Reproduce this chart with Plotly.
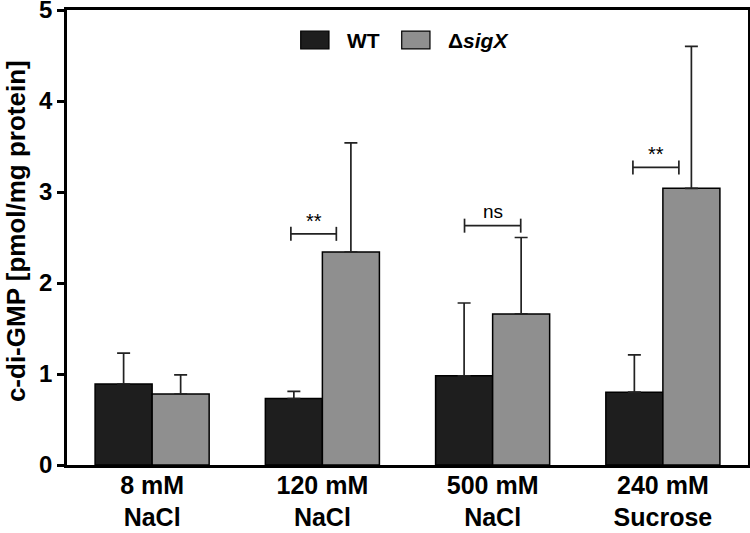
import plotly.graph_objects as go

categories = ["8 mM<br>NaCl", "120 mM<br>NaCl", "500 mM<br>NaCl", "240 mM<br>Sucrose"]
wt_mean = [0.89, 0.73, 0.98, 0.80]
wt_err_top = [1.23, 0.81, 1.78, 1.21]
sig_mean = [0.78, 2.34, 1.66, 3.04]
sig_err_top = [0.99, 3.54, 2.50, 4.60]

# significance brackets
brackets_x0 = [0.815, 1.835, 2.824]
brackets_x1 = [1.082, 2.165, 3.094]
brackets_y = [2.54, 2.63, 3.27]
brackets_label = ["**", "ns", "**"]

xs = list(range(len(categories)))
FONT = "Liberation Sans"

fig = go.Figure()
fig.add_trace(go.Bar(
    x=xs, y=wt_mean, name="WT",
    marker=dict(color="#1e1e1e", line=dict(color="black", width=1.5)),
    error_y=dict(type="data", symmetric=False,
                 array=[t - m for t, m in zip(wt_err_top, wt_mean)],
                 arrayminus=[0] * len(wt_mean),
                 color="#222222", thickness=1.7, width=6.5),
    showlegend=False,
))
fig.add_trace(go.Bar(
    x=xs, y=sig_mean, name="ΔsigX",
    marker=dict(color="#8f8f8f", line=dict(color="black", width=1.5)),
    error_y=dict(type="data", symmetric=False,
                 array=[t - m for t, m in zip(sig_err_top, sig_mean)],
                 arrayminus=[0] * len(sig_mean),
                 color="#222222", thickness=1.7, width=6.5),
    showlegend=False,
))

shapes = []
annotations = []
cap = 0.077
for x0, x1, y, lab in zip(brackets_x0, brackets_x1, brackets_y, brackets_label):
    line = dict(color="#222222", width=1.7)
    shapes.append(dict(type="line", xref="x", yref="y", x0=x0, x1=x1, y0=y, y1=y, line=line))
    shapes.append(dict(type="line", xref="x", yref="y", x0=x0, x1=x0, y0=y - cap, y1=y + cap, line=line))
    shapes.append(dict(type="line", xref="x", yref="y", x0=x1, x1=x1, y0=y - cap, y1=y + cap, line=line))
    annotations.append(dict(
        x=(x0 + x1) / 2, y=y, xref="x", yref="y", text=lab, showarrow=False,
        yanchor="bottom", yshift=(0 if lab == "**" else 2),
        font=dict(family=FONT, size=20 if lab == "**" else 19, color="black")))

# manual legend
shapes.append(dict(type="rect", xref="paper", yref="paper", x0=0.3432, x1=0.3847, y0=0.9146, y1=0.9534,
                   fillcolor="#1e1e1e", line=dict(color="black", width=1.2)))
shapes.append(dict(type="rect", xref="paper", yref="paper", x0=0.4915, x1=0.5330, y0=0.9146, y1=0.9534,
                   fillcolor="#8f8f8f", line=dict(color="black", width=1.2)))
annotations.append(dict(x=0.4082, y=0.934, xref="paper", yref="paper", xanchor="left", yanchor="middle",
                        text="<b>WT</b>", showarrow=False, font=dict(family=FONT, size=21, color="black")))
annotations.append(dict(x=0.5561, y=0.934, xref="paper", yref="paper", xanchor="left", yanchor="middle",
                        text="<b>Δ<i>sigX</i></b>", showarrow=False, font=dict(family=FONT, size=21, color="black")))

# y axis title
annotations.append(dict(x=-0.0749, y=0.514, xref="paper", yref="paper", xanchor="center", yanchor="middle",
                        text="<b>c-di-GMP [pmol/mg protein]</b>", textangle=-90, showarrow=False,
                        font=dict(family=FONT, size=26, color="black")))

fig.update_layout(
    width=750, height=533,
    margin=dict(l=67, r=2, t=10, b=68),
    paper_bgcolor="white", plot_bgcolor="white",
    barmode="group", bargap=0.33, bargroupgap=0,
    shapes=shapes, annotations=annotations,
    font=dict(family=FONT, color="black"),
)
fig.update_xaxes(
    range=[-0.5, 3.5], tickvals=xs, ticktext=categories,
    showline=True, linecolor="black", linewidth=2.5, mirror=True,
    ticks="", showgrid=False, zeroline=False, automargin=False,
    ticklabelstandoff=-4,
    tickfont=dict(family=FONT, size=25, color="black", weight="bold"),
)
fig.update_yaxes(
    range=[0, 5], tickvals=[0, 1, 2, 3, 4, 5],
    showline=True, linecolor="black", linewidth=2.5, mirror=True,
    ticks="outside", ticklen=7, tickwidth=2.5, tickcolor="black",
    showgrid=False, zeroline=False, ticklabeloverflow="allow", automargin=False,
    tickfont=dict(family=FONT, size=24, color="black", weight="bold"),
)

fig.write_html(
    "out.html",
    config={"displayModeBar": False},
    post_script="document.body.style.margin='0';document.body.style.overflow='hidden';",
)
